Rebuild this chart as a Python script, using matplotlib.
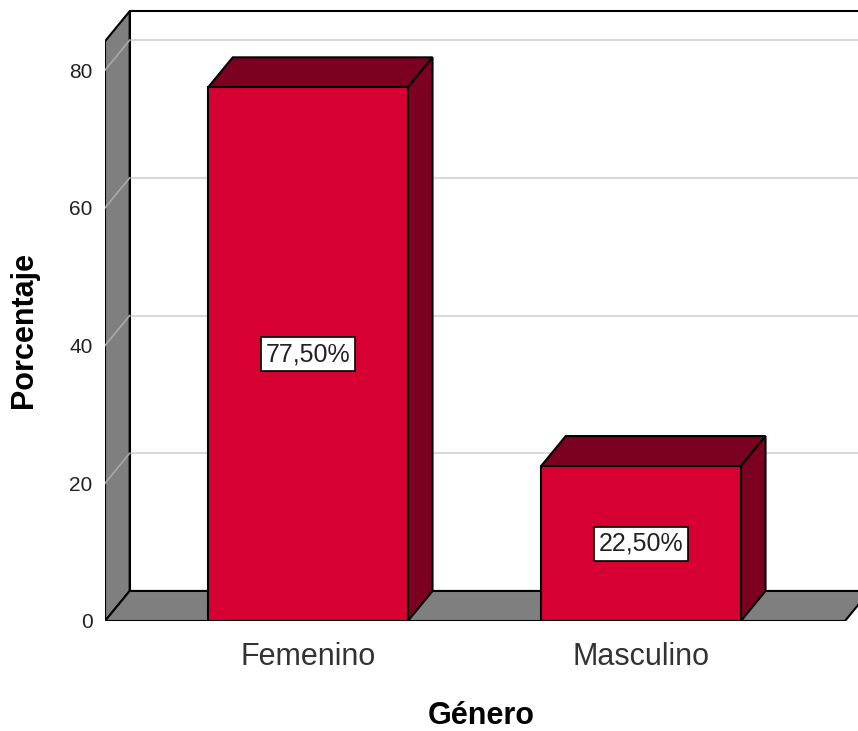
import matplotlib
matplotlib.use("Agg")
import matplotlib.pyplot as plt
from matplotlib.patches import Polygon, Rectangle

# data
categorias = ["Femenino", "Masculino"]
porcentajes = [77.5, 22.5]
y_ticks = [0, 20, 40, 60, 80]

plt.rcParams['font.family'] = ['Liberation Sans', 'DejaVu Sans']

front_color = '#D70032'
dark_color = '#7C001F'
wall_color = '#7F7F7F'

# pseudo-3d geometry (data units)
bar_w = 0.6
dx, dy = 0.074, 4.36      # depth offset
x0, x1 = -0.6096, 1.6126  # front edge of floor
wall_h = 84.2

fig = plt.figure(figsize=(8.58, 7.31), dpi=100)
ax = fig.add_axes([105 / 858, 110 / 731, 753 / 858, 619 / 731])
ax.set_xlim(x0, 1.6517)
ax.set_ylim(0, 89.9)

# back wall
ax.add_patch(Rectangle((x0 + dx, dy), x1 - x0 + 0.2, wall_h, facecolor='white',
                       edgecolor='black', lw=1.5, zorder=1))
for v in y_ticks[1:]:
    ax.plot([x0 + dx, x1 + dx + 0.2], [v + dy, v + dy], color='#D9D9D9', lw=1.5, zorder=2)

# left wall
ax.add_patch(Polygon([(x0, 0), (x0 + dx, dy), (x0 + dx, wall_h + dy), (x0, wall_h)],
                     facecolor=wall_color, edgecolor='black', lw=1.5, zorder=3))
for v in y_ticks[1:]:
    ax.plot([x0, x0 + dx], [v, v + dy], color='#A8A8A8', lw=1.2, zorder=4)

# floor
ax.add_patch(Polygon([(x0, 0), (x1, 0), (x1 + dx, dy), (x0 + dx, dy)],
                     facecolor=wall_color, edgecolor='black', lw=1.5, zorder=5))

# bars
for i, v in enumerate(porcentajes):
    l, r = i - bar_w / 2, i + bar_w / 2
    ax.add_patch(Polygon([(l, v), (r, v), (r + dx, v + dy), (l + dx, v + dy)],
                         facecolor=dark_color, edgecolor='black', lw=1.5, zorder=6))
    ax.add_patch(Polygon([(r, 0), (r + dx, dy), (r + dx, v + dy), (r, v)],
                         facecolor=dark_color, edgecolor='black', lw=1.5, zorder=6))
    ax.add_patch(Rectangle((l, 0), bar_w, v, facecolor=front_color,
                           edgecolor='black', lw=1.5, zorder=7))
    etiqueta = f"{v:.2f}%".replace('.', ',')
    ax.text(i, v / 2, etiqueta, ha='center', va='center', fontsize=18, color='#222222',
            zorder=8, bbox=dict(boxstyle='square,pad=0.2', facecolor='white',
                                edgecolor='black', lw=1.2))

for s in ax.spines.values():
    s.set_visible(False)
ax.set_yticks(y_ticks)
ax.set_yticklabels([str(t) for t in y_ticks], fontsize=15, color='#222222')
ax.set_xticks(range(len(categorias)))
ax.set_xticklabels(categorias, fontsize=22, color='#333333')
ax.tick_params(axis='y', length=0, pad=9)
ax.tick_params(axis='x', length=0, pad=15)

ax.set_xlabel("Género", fontsize=22, fontweight='bold', labelpad=21)
ax.set_ylabel("Porcentaje", fontsize=22, fontweight='bold')
ax.yaxis.set_label_coords(-66 / 753, 291 / 619)

fig.savefig("out.png", dpi=100)
